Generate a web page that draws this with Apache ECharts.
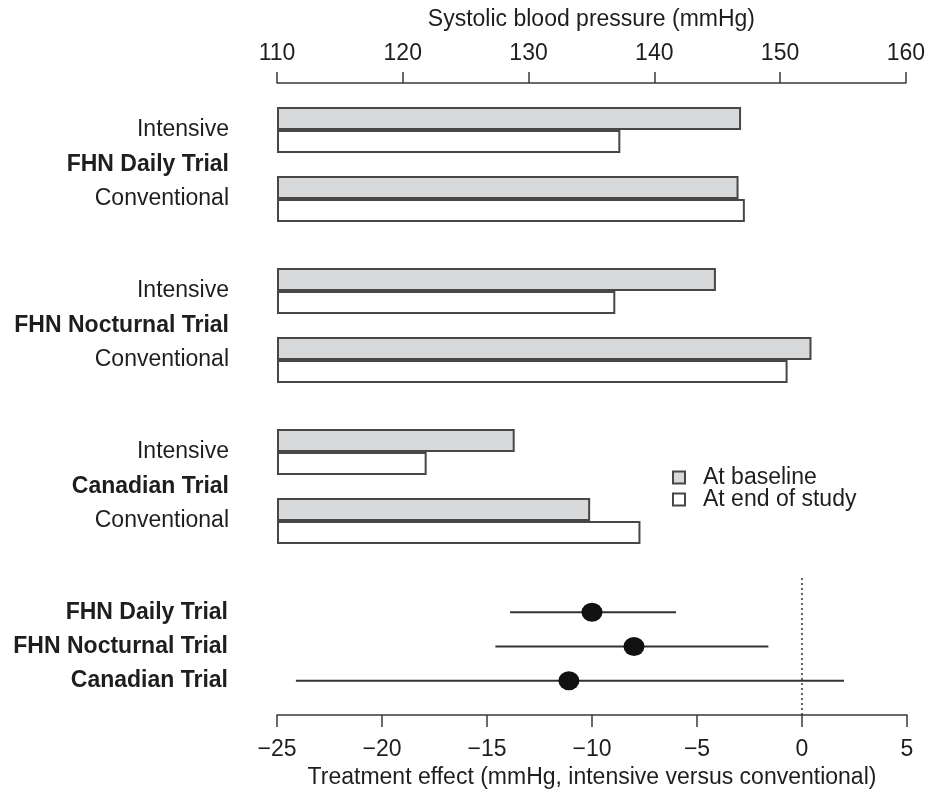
<!DOCTYPE html>
<html>
<head>
<meta charset="utf-8">
<script src="https://cdn.jsdelivr.net/npm/echarts@6/dist/echarts.min.js"></script>
<style>html,body{margin:0;padding:0;background:#fff}#c{width:928px;height:790px}</style>
</head>
<body>
<div id="c"></div>
<script>
// ---- data ----
const trials = ['FHN Daily Trial', 'FHN Nocturnal Trial', 'Canadian Trial'];
const arms = ['Intensive', 'Conventional'];
// order: [Daily Int, Daily Conv, Noct Int, Noct Conv, Canadian Int, Canadian Conv]
const baselineSBP = [146.9, 146.7, 144.9, 152.5, 128.9, 134.9];
const endSBP = [137.3, 147.2, 136.9, 150.6, 121.9, 138.9];
const effect = [-10.0, -8.0, -11.1];
const ciLow = [-13.9, -14.6, -24.1];
const ciHigh = [-6.0, -1.6, 2.0];
const topTicks = {min: 110, max: 160, step: 10};
const bottomTicks = {min: -25, max: 5, step: 5};

// ---- build rows (19 slots: 2 bars per arm, gaps between) ----
const NROWS = 19;
const rowCats = Array.from({length: NROWS}, (_, i) => 'r' + i);
const baseRow = new Array(NROWS).fill('-');
const blRow = new Array(NROWS).fill('-');
const endRow = new Array(NROWS).fill('-');
const leftLabels = {};
trials.forEach((t, ti) => {
  leftLabels[(7 * ti + 2.5).toFixed(1)] = '{b|' + t + '}';
  arms.forEach((a, ai) => {
    const k = ti * 2 + ai;
    const r = 7 * ti + 3 * ai;
    baseRow[r] = topTicks.min; baseRow[r + 1] = topTicks.min;
    blRow[r] = +(baselineSBP[k] - topTicks.min).toFixed(2);
    endRow[r + 1] = +(endSBP[k] - topTicks.min).toFixed(2);
    leftLabels[(r + 1).toFixed(1)] = a;
  });
});

const FONT = 'Liberation Sans';
const FS = 23;
const TXT = '#1e1e1e';
const AX = '#3a3a3a';
const GRAY = '#d8d9db';
const BORDER = '#474747';

const chart = echarts.init(document.getElementById('c'), null, {renderer: 'canvas'});
chart.setOption({
  animation: false,
  textStyle: {fontFamily: FONT},
  grid: [
    {left: 277, right: 21, top: 107, height: 437},
    {left: 277, right: 21, top: 578, height: 137}
  ],
  legend: {
    orient: 'vertical', left: 672, top: 466, padding: 0,
    itemWidth: 12, itemHeight: 12, itemGap: -1,
    textStyle: {fontFamily: FONT, fontSize: FS, color: TXT, padding: [0, 0, 0, 13]},
    data: [
      {name: 'At baseline', icon: 'rect', itemStyle: {color: GRAY, borderColor: BORDER, borderWidth: 2}},
      {name: 'At end of study', icon: 'rect', itemStyle: {color: '#fff', borderColor: BORDER, borderWidth: 2}}
    ]
  },
  xAxis: [
    {
      type: 'value', gridIndex: 0, position: 'top', offset: 24,
      min: topTicks.min, max: topTicks.max, interval: topTicks.step,
      name: 'Systolic blood pressure (mmHg)', nameLocation: 'middle', nameGap: 52,
      nameTextStyle: {fontFamily: FONT, fontSize: FS, color: TXT},
      axisLine: {show: true, onZero: false, lineStyle: {color: AX, width: 1.5}},
      axisTick: {show: true, length: 11, lineStyle: {color: AX, width: 1.5}},
      axisLabel: {fontFamily: FONT, fontSize: FS, color: TXT, margin: 18},
      splitLine: {show: false}
    },
    {
      type: 'value', gridIndex: 1, position: 'bottom',
      min: bottomTicks.min, max: bottomTicks.max, interval: bottomTicks.step,
      name: 'Treatment effect (mmHg, intensive versus conventional)', nameLocation: 'middle', nameGap: 51,
      nameTextStyle: {fontFamily: FONT, fontSize: FS, color: TXT},
      axisLine: {show: true, onZero: false, lineStyle: {color: AX, width: 1.5}},
      axisTick: {show: true, length: 12, lineStyle: {color: AX, width: 1.5}},
      axisLabel: {fontFamily: FONT, fontSize: FS, color: TXT, margin: 23,
        formatter: v => v < 0 ? '\u2212' + Math.abs(v) : String(v)},
      splitLine: {show: false}
    }
  ],
  yAxis: [
    {
      type: 'category', gridIndex: 0, data: rowCats, inverse: true,
      axisLine: {show: false}, axisTick: {show: false}, axisLabel: {show: false}, splitLine: {show: false}
    },
    {
      type: 'value', gridIndex: 0, min: 0, max: NROWS, interval: 0.5, inverse: true, position: 'left',
      axisLine: {show: false, onZero: false}, axisTick: {show: false}, splitLine: {show: false},
      axisLabel: {
        show: true, margin: 48, fontFamily: FONT, fontSize: FS, color: TXT,
        formatter: v => leftLabels[(+v).toFixed(1)] || '',
        rich: {b: {fontFamily: FONT, fontSize: FS, fontWeight: 'bold', color: TXT}}
      }
    },
    {
      type: 'value', gridIndex: 1, min: 0, max: trials.length + 1, interval: 1, inverse: true,
      axisLine: {show: false, onZero: false}, axisTick: {show: false}, splitLine: {show: false},
      axisLabel: {
        show: true, margin: 49, fontFamily: FONT, fontSize: FS, color: TXT, fontWeight: 'bold',
        formatter: v => (v >= 1 && v <= trials.length) ? trials[v - 1] : ''
      }
    }
  ],
  series: [
    {
      name: 'base', type: 'bar', xAxisIndex: 0, yAxisIndex: 0, stack: 's',
      data: baseRow, barCategoryGap: '0%', silent: true,
      itemStyle: {color: 'rgba(0,0,0,0)'}
    },
    {
      name: 'At baseline', type: 'bar', xAxisIndex: 0, yAxisIndex: 0, stack: 's',
      data: blRow, barCategoryGap: '0%',
      itemStyle: {color: GRAY, borderColor: BORDER, borderWidth: 2}
    },
    {
      name: 'At end of study', type: 'bar', xAxisIndex: 0, yAxisIndex: 0, stack: 's',
      data: endRow, barCategoryGap: '0%',
      itemStyle: {color: '#fff', borderColor: BORDER, borderWidth: 2}
    },
    {
      name: 'ci', type: 'custom', xAxisIndex: 1, yAxisIndex: 2,
      data: trials.map((t, i) => [ciLow[i], ciHigh[i], i + 1]),
      encode: {x: [0, 1], y: 2},
      renderItem: (params, api) => {
        const y = api.value(2);
        const p1 = api.coord([api.value(0), y]);
        const p2 = api.coord([api.value(1), y]);
        return {type: 'line', shape: {x1: p1[0], y1: p1[1], x2: p2[0], y2: p2[1]},
          style: {stroke: '#333', lineWidth: 2}};
      },
      markLine: {
        silent: true, symbol: 'none', label: {show: false},
        lineStyle: {type: [2, 3], color: '#333', width: 1.5},
        data: [{xAxis: 0}]
      }
    },
    {
      name: 'effect', type: 'scatter', xAxisIndex: 1, yAxisIndex: 2,
      data: trials.map((t, i) => [effect[i], i + 1]),
      symbol: 'circle', symbolSize: [21, 19],
      itemStyle: {color: '#111', opacity: 1}
    }
  ]
});
</script>
</body>
</html>
